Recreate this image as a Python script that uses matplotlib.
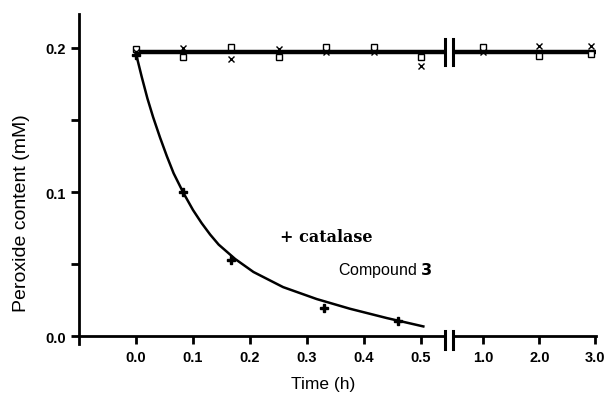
import matplotlib
matplotlib.use("Agg")
import matplotlib.pyplot as plt
import numpy as np

# flat series (no catalase effect), time in h
t_flat = [0.0, 0.083, 0.167, 0.25, 0.333, 0.417, 0.5, 1.0, 2.0, 2.92]
sq_vals = [0.1993, 0.194, 0.2007, 0.1938, 0.2007, 0.2007, 0.1938, 0.2007, 0.1944, 0.1958]
x_vals = [0.197, 0.200, 0.1924, 0.1993, 0.197, 0.197, 0.1875, 0.197, 0.2014, 0.2014]
flat_level = 0.197

# + catalase series
t_cat = [0.0, 0.083, 0.167, 0.33, 0.46]
cat_vals = [0.195, 0.100, 0.0528, 0.0194, 0.0104]

# fitted curve
t_fit = [0.0, 0.010, 0.020, 0.030, 0.042, 0.054, 0.066, 0.083, 0.100, 0.115,
         0.130, 0.145, 0.174, 0.206, 0.258, 0.317, 0.375, 0.440, 0.504]
fit_vals = [0.196, 0.180, 0.165, 0.152, 0.138, 0.125, 0.113, 0.0995, 0.0875, 0.0785,
            0.0705, 0.0635, 0.0535, 0.0445, 0.0340, 0.0257, 0.0190, 0.0125, 0.0067]

left_ticks = [0.0, 0.1, 0.2, 0.3, 0.4, 0.5]
right_ticks = [1.0, 2.0, 3.0]

plt.rcParams["font.family"] = ["Liberation Sans", "DejaVu Sans"]

fig = plt.figure(figsize=(6.09, 4.06), dpi=100)
W, H = 609, 406
ax1 = fig.add_axes([79 / W, 1 - 345 / H, (445 - 79) / W, (345 - 15) / H])
ax2 = fig.add_axes([453 / W, 1 - 345 / H, (596 - 453) / W, (345 - 15) / H])

XL1 = (-0.1, 0.542)
XL2 = (0.46, 3.01)
YLIM = (-0.0055, 0.2236)
for ax in (ax1, ax2):
    ax.set_ylim(*YLIM)
    ax.spines["top"].set_visible(False)
    ax.spines["right"].set_visible(False)
    ax.spines["bottom"].set_position(("data", 0))
    ax.spines["bottom"].set_linewidth(2.0)
    ax.spines["left"].set_linewidth(2.0)
    ax.tick_params(axis="x", direction="out", length=6, width=2, pad=4, labelsize=10.5)
    ax.patch.set_alpha(0)

ax1.set_xlim(*XL1)
ax2.set_xlim(*XL2)
ax2.spines["left"].set_visible(False)
ax2.tick_params(axis="y", left=False, labelleft=False)

ax1.set_xticks(left_ticks)
ax1.set_xticklabels([f"{v:.1f}" for v in left_ticks], fontweight="bold")
ax2.set_xticks(right_ticks)
ax2.set_xticklabels([f"{v:.1f}" for v in right_ticks], fontweight="bold")

ax1.set_yticks([0.0, 0.1, 0.2])
ax1.set_yticklabels(["0.0", "0.1", "0.2"], fontweight="bold")
ax1.set_yticks([0.05, 0.15], minor=True)
ax1.tick_params(axis="y", which="both", direction="out", length=6, width=2, labelsize=10.5)

# thick flat line in both segments
ax1.hlines(flat_level, 0.0, XL1[1], color="black", lw=3.2, zorder=2)
ax2.hlines(flat_level, XL2[0], XL2[1], color="black", lw=3.2, zorder=2)

t_arr = np.array(t_flat)
sq_arr = np.array(sq_vals)
x_arr = np.array(x_vals)
for ax, mask in ((ax1, t_arr <= 0.5), (ax2, t_arr >= 1.0)):
    ax.plot(t_arr[mask], sq_arr[mask], linestyle="none", marker="s", ms=5, mfc="white",
            mec="black", mew=1.0, zorder=3, clip_on=False)
    ax.plot(t_arr[mask], x_arr[mask], linestyle="none", marker="x", ms=4.5, color="black",
            mew=1.0, zorder=3, clip_on=False)

ax1.plot(t_fit, fit_vals, color="black", lw=1.8, zorder=3, solid_joinstyle="round")
ax1.plot(t_cat, cat_vals, linestyle="none", marker="P", ms=6, color="black", zorder=4)

# axis break marks "||"
for ax, xa in ((ax1, XL1[1]), (ax2, XL2[0])):
    ax.plot([xa, xa], [flat_level - 0.009, flat_level + 0.009],
            color="black", lw=2.2, clip_on=False, zorder=5)
    ax.plot([xa, xa], [-0.009, 0.0035], color="black", lw=2.2, clip_on=False, zorder=5)

ax1.text(0.253, 0.0688, "+ catalase", fontsize=11.5, fontweight="bold",
         family=["DejaVu Serif"], va="center", ha="left")
ax1.text(0.354, 0.0465, "Compound $\\bf{3}$", fontsize=11.5, va="center", ha="left")

ax1.set_ylabel("Peroxide content (mM)", fontsize=14)
ax1.yaxis.set_label_coords(-0.135, 0.40)
fig.text(323 / W, 1 - 385 / H, "Time (h)", fontsize=12.5, ha="center", va="center")

fig.savefig("out.png", dpi=100)
